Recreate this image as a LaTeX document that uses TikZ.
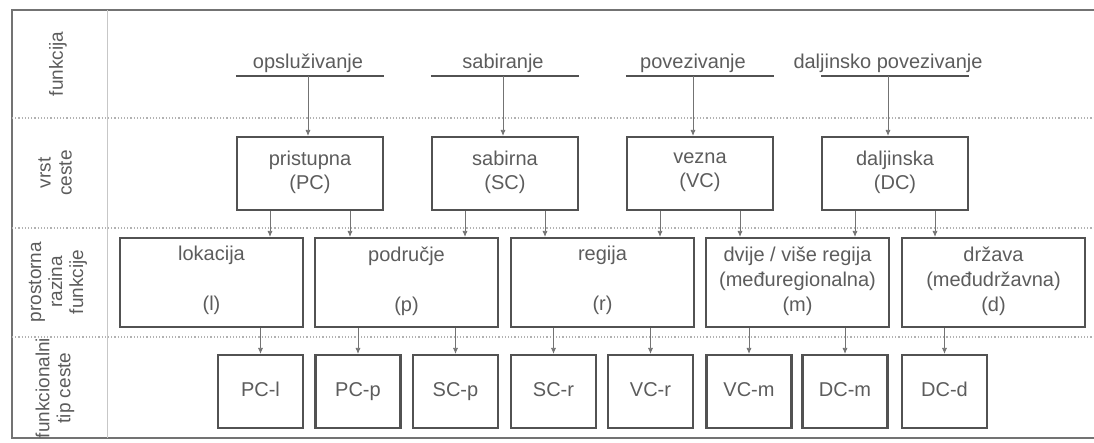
\documentclass[tikz,border=0pt]{standalone}
\usepackage{fontspec}
\setmainfont{Liberation Sans}
\usetikzlibrary{positioning}
\usetikzlibrary{arrows.meta}
\definecolor{inkgray}{gray}{0.32}
\definecolor{txtgray}{gray}{0.36}
\tikzset{
    boxv/.style = {rectangle, draw=inkgray, line width=1.1pt, align=center, minimum width=73pt, minimum height=36.5pt, inner sep=1pt, text=txtgray, font=\fontsize{10}{12}\selectfont, execute at begin node=\strut},
    boxr/.style = {boxv, minimum width=91.5pt, minimum height=44.5pt, font=\fontsize{10}{12.5}\selectfont},
    boxt/.style = {boxv, minimum width=42.5pt},
    funclabel/.style = {anchor=south, inner sep=1.5pt, text=txtgray, font=\fontsize{10}{12}\selectfont},
    rowlabel/.style = {rotate=90, align=center, inner sep=0pt, text=txtgray, font=\fontsize{9.5}{10.5}\selectfont},
    fline/.style = {draw=inkgray, line width=1.1pt},
    edgen/.style = {-{Latex[length=3pt,width=2.6pt]}, draw=black!55, line width=0.4pt},
    divline/.style = {draw=black!30, densely dotted, line width=0.6pt}, % row borders
    colline/.style = {draw=black!22, line width=0.5pt},
    outerframe/.style = {draw=black!55, line width=1.2pt}
}
\begin{document}
\begin{tikzpicture}[x=0.5pt,y=-0.5pt]
\path[use as bounding box] (0,0) rectangle (1094,443);
%
\draw[outerframe] (1094,10) -- (12,10) -- (12,438) -- (1094,438);
\draw[colline] (107,10) -- (107,438);
\draw[divline] (12,118) -- (1094,118);
\draw[divline] (12,228) -- (1094,228);
\draw[divline] (12,337) -- (1094,337);
%
\node[rowlabel] at (58,64) (rf) {funkcija};
\node[rowlabel] at (55,173) (rv) {vrst\\ceste};
\node[rowlabel] at (58,282) (rp) {prostorna\\razina\\funkcije};
\node[rowlabel] at (55,388) (rt) {funkcionalni\\tip ceste};
%
\node[boxv] at (310,173.5) (pc) {pristupna\\(PC)};
\node[boxv] at (505,173.5) (sc) {sabirna\\(SC)};
\node[boxv] at (700,173.5) (vc) {vezna\\(VC)};
\node[boxv] at (895,173.5) (dc) {daljinska\\(DC)};
%
\node[funclabel] at (308,76) (fo) {opsluživanje};
\node[funclabel] at (503,76) (fs) {sabiranje};
\node[funclabel] at (693,76) (fp) {povezivanje};
\node[funclabel] at (888,76) (fd) {daljinsko povezivanje};
%
\node[boxr] at (211.5,282.5) (lok) {lokacija\\~\\(l)};
\node[boxr] at (406.5,282.5) (pod) {područje\\~\\(p)};
\node[boxr] at (602.5,282.5) (reg) {regija\\~\\(r)};
\node[boxr] at (797.5,282.5) (mr) {dvije / više regija\\(međuregionalna)\\(m)};
\node[boxr] at (993.5,282.5) (drz) {država\\(međudržavna)\\(d)};
%
\node[boxt] at (260.5,391.5) (pcl) {PC-l};
\node[boxt] at (358,391.5) (pcp) {PC-p};
\node[boxt] at (455.5,391.5) (scp) {SC-p};
\node[boxt] at (553.5,391.5) (scr) {SC-r};
\node[boxt] at (650.5,391.5) (vcr) {VC-r};
\node[boxt] at (749,391.5) (vcm) {VC-m};
\node[boxt] at (845,391.5) (dcm) {DC-m};
\node[boxt] at (944.5,391.5) (dcd) {DC-d};
%
\draw[fline] (fo.south -| pc.west) -- (fo.south -| pc.east);
\draw[fline] (fs.south -| sc.west) -- (fs.south -| sc.east);
\draw[fline] (fp.south -| vc.west) -- (fp.south -| vc.east);
\draw[fline] (fd.south -| dc.west) -- (fd.south -| dc.east);
%
\draw[edgen] (fo.south) -- (fo.south |- pc.north);
\draw[edgen] (fs.south) -- (fs.south |- sc.north);
\draw[edgen] (fp.south) -- (fp.south |- vc.north);
\draw[edgen] (fd.south) -- (fd.south |- dc.north);
%
\draw[edgen] ([xshift=-20pt]pc.south) -- ([xshift=-20pt]pc.south |- lok.north);
\draw[edgen] ([xshift=20pt]pc.south) -- ([xshift=20pt]pc.south |- pod.north);
\draw[edgen] ([xshift=-20pt]sc.south) -- ([xshift=-20pt]sc.south |- pod.north);
\draw[edgen] ([xshift=20pt]sc.south) -- ([xshift=20pt]sc.south |- reg.north);
\draw[edgen] ([xshift=-20pt]vc.south) -- ([xshift=-20pt]vc.south |- reg.north);
\draw[edgen] ([xshift=20pt]vc.south) -- ([xshift=20pt]vc.south |- mr.north);
\draw[edgen] ([xshift=-20pt]dc.south) -- ([xshift=-20pt]dc.south |- mr.north);
\draw[edgen] ([xshift=20pt]dc.south) -- ([xshift=20pt]dc.south |- drz.north);
%
\draw[edgen] (lok.south -| pcl.north) -- (pcl.north);
\draw[edgen] (pod.south -| pcp.north) -- (pcp.north);
\draw[edgen] (pod.south -| scp.north) -- (scp.north);
\draw[edgen] (reg.south -| scr.north) -- (scr.north);
\draw[edgen] (reg.south -| vcr.north) -- (vcr.north);
\draw[edgen] (mr.south -| vcm.north) -- (vcm.north);
\draw[edgen] (mr.south -| dcm.north) -- (dcm.north);
\draw[edgen] (drz.south -| dcd.north) -- (dcd.north);

\end{tikzpicture}
\end{document}
